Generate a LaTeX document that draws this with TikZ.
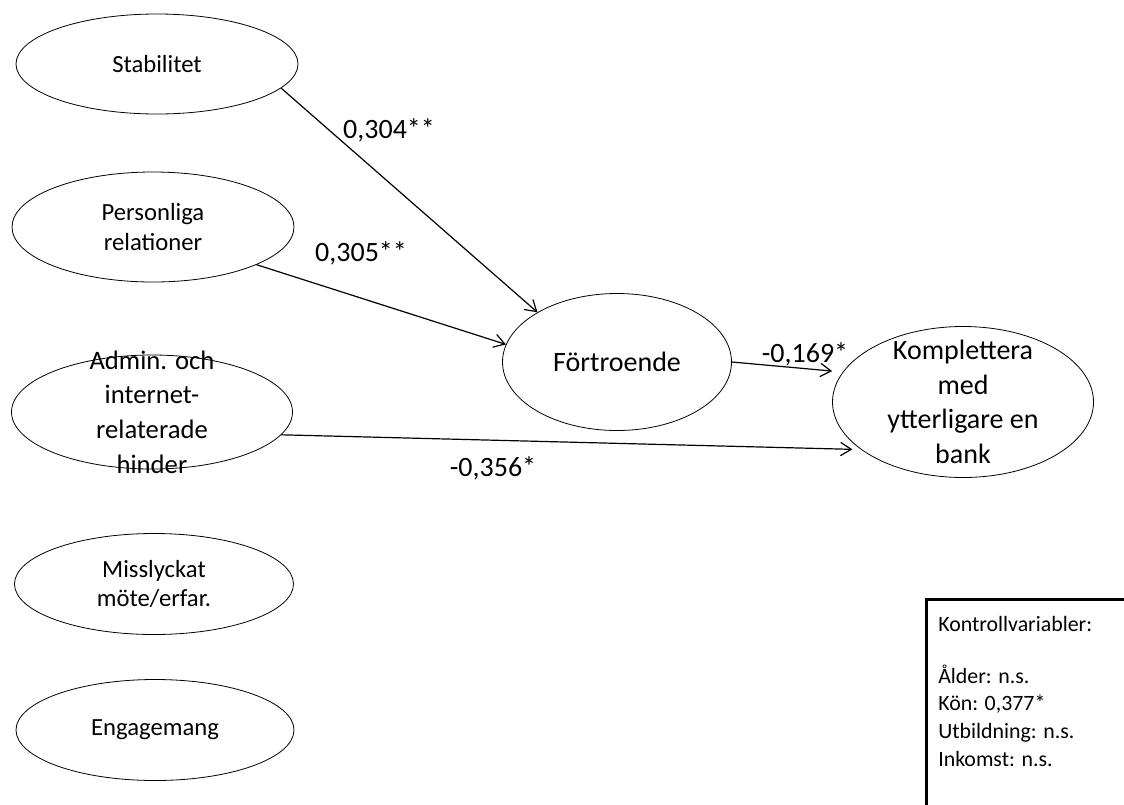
\documentclass[tikz,border=0pt]{standalone}
\usepackage{fontspec}
\setmainfont{Carlito}
\usetikzlibrary{shapes.geometric,arrows.meta}
\begin{document}
\begin{tikzpicture}[x=0.75pt,y=-0.75pt,
  ell/.style={draw, ellipse, line width=0.6pt, inner sep=0pt},
  txtS/.style={align=center, inner sep=0pt, font=\fontsize{18.5}{22}\selectfont},
  txtM/.style={align=center, inner sep=0pt, font=\fontsize{20}{26}\selectfont},
  txtL/.style={align=center, inner sep=0pt, font=\fontsize{21}{26}\selectfont},
  arr/.style={-{Straight Barb[length=8pt,width=10pt,line width=0.9pt]}, line width=0.9pt},
  lab/.style={font=\fontsize{21}{25}\selectfont, inner sep=0pt}]
\useasboundingbox (0,0) rectangle (1124,804);

% left ellipses
\node[ell, minimum width=211.5pt, minimum height=75pt,
      label={[txtS]center:Stabilitet}] (stab) at (157,64) {};
\node[ell, minimum width=211.5pt, minimum height=82.5pt,
      label={[txtS]center:{Personliga\\relationer}}] (pers) at (153,227) {};
\node[ell, minimum width=210.75pt, minimum height=85.5pt,
      label={[txtM]center:{Admin. och\\internet-\\relaterade\\hinder}}] (admin) at (152,412) {};
\node[ell, minimum width=209.25pt, minimum height=75.75pt,
      label={[txtS]center:{Misslyckat\\möte/erfar.}}] (miss) at (154,584) {};
\node[ell, minimum width=208.5pt, minimum height=75.75pt,
      label={[txtS]center:Engagemang}] (eng) at (155,730) {};

% middle and right ellipses
\node[ell, minimum width=171.75pt, minimum height=102.75pt,
      label={[txtL]center:Förtroende}] (fort) at (617,362) {};
\node[ell, minimum width=195.75pt, minimum height=113.25pt,
      label={[txtL]center:{Komplettera\\med\\ytterligare en\\bank}}] (komp) at (963,402) {};

% connectors
\draw[arr] (stab.-11) -- (fort.148.5);
\draw[arr] (pers.-20) -- (fort.171);
\draw[arr, shorten >=8pt] (fort.0) -- (komp.166);
\draw[arr, shorten >=6.5pt] (admin.-10) -- (komp.205);

% coefficients
\node[lab] (l1) at (389,130) {0,304**};
\node[lab] (l2) at (361,253) {0,305**};
\node[lab] (l3) at (805,354) {-0,169*};
\node[lab] (l4) at (493,468) {-0,356*};

% control variables box
\node[draw, line width=2pt, anchor=north west, inner sep=0pt,
      minimum width=300pt, minimum height=250pt] (ctrl) at (925,598) {};
\node[anchor=north west, align=left, inner sep=0pt,
      font=\fontsize{16.4}{20.8}\selectfont] (ctrltxt) at (938,616)
  {Kontrollvariabler:\\[18pt]Ålder: n.s.\\Kön: 0,377*\\Utbildning: n.s.\\Inkomst: n.s.};
\end{tikzpicture}
\end{document}
